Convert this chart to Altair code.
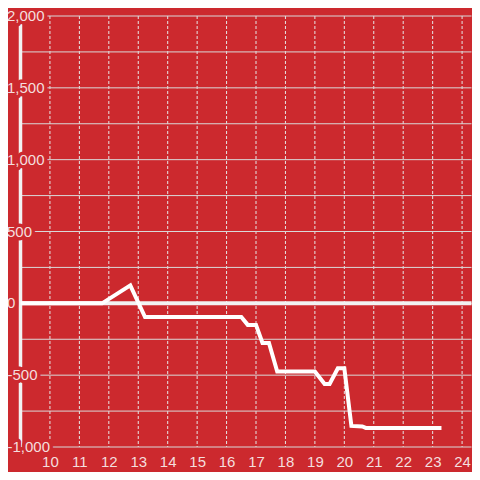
import altair as alt
import pandas as pd

# ---- data ----
x_vals = [9.0, 11.77, 12.73, 13.23, 16.5, 16.72, 17.0, 17.22, 17.44, 17.72,
          19.0, 19.33, 19.5, 19.78, 20.0, 20.24, 20.61, 20.73, 23.3]
y_vals = [0, 0, 125, -95, -95, -150, -150, -276, -276, -475,
          -475, -561, -561, -452, -452, -853, -857, -867, -867]
x_ticks = list(range(10, 25))
y_label_ticks = [-1000, -500, 0, 500, 1000, 1500, 2000]
y_grid_ticks = list(range(-1000, 2001, 250))
x_domain = [9, 24.32]
y_domain = [-1000, 2000]

BG = "#cc292e"
LABEL = "#f4dede"
FONT = "Liberation Sans"

line_df = pd.DataFrame({"x": x_vals, "y": y_vals})
lab_df = pd.DataFrame({"v": y_label_ticks,
                       "label": [f"{v:,}" for v in y_label_ticks]})
xgrid_df = pd.DataFrame({"x": x_ticks})
ygrid_df = pd.DataFrame({"y": y_grid_ticks})

xs = alt.Scale(domain=x_domain, nice=False, zero=False)
ys = alt.Scale(domain=y_domain, nice=False, zero=False)
xa = alt.Axis(values=x_ticks, title=None, grid=False, ticks=False, tickSize=0,
              domain=False, labelFont=FONT, labelFontSize=15,
              labelColor=LABEL, labelPadding=7, format="d", zindex=0)


def X(field):
    return alt.X(field, type="quantitative", scale=xs, axis=xa)


def Y(field):
    return alt.Y(field, type="quantitative", scale=ys, axis=None)


xleft = alt.XDatum(x_domain[0], type="quantitative", scale=xs, axis=xa)

vgrid = alt.Chart(xgrid_df).mark_rule(
    color="#e6e6e6", strokeWidth=1, strokeDash=[3, 2]
).encode(x=X("x"))
hgrid = alt.Chart(ygrid_df).mark_rule(
    color="#d9d9d9", strokeWidth=1
).encode(y=Y("y"))
vline = alt.Chart(pd.DataFrame({"z": [0]})).mark_rule(
    color="#f2f2f2", strokeWidth=3.5
).encode(x=xleft)

labels = alt.Chart(lab_df)


def label_layer(cond, dx, halo):
    if halo:
        mk = dict(fill=BG, stroke=BG, strokeWidth=7, strokeJoin="round")
    else:
        mk = dict(color=LABEL)
    return labels.transform_filter(cond).mark_text(
        align="left", baseline="middle", dx=dx, font=FONT, fontSize=15, **mk
    ).encode(x=xleft, y=Y("v"), text="label:N")


halo_pos = label_layer("datum.v >= 0", -13.5, True)
halo_neg = label_layer("datum.v < 0", -13, True)
text_pos = label_layer("datum.v >= 0", -13.5, False)
text_neg = label_layer("datum.v < 0", -13, False)

zero = alt.Chart(pd.DataFrame({"z": [0]})).mark_rule(
    color="#f2f2f2", strokeWidth=4
).encode(y=Y("z"))

line = alt.Chart(line_df).mark_line(
    color="white", strokeWidth=4, strokeJoin="miter", clip=True
).encode(x=X("x"), y=Y("y"))

chart = alt.layer(
    vgrid, hgrid, vline, halo_pos, halo_neg, text_pos, text_neg, zero, line
).properties(
    width=451, height=431,
    background=BG,
    padding={"left": 12.5, "top": 8, "right": 0, "bottom": 25},
    autosize=alt.AutoSizeParams(type="none"),
).configure_view(stroke=None)

chart.save("out.html", embed_options={"renderer": "svg", "actions": False})
